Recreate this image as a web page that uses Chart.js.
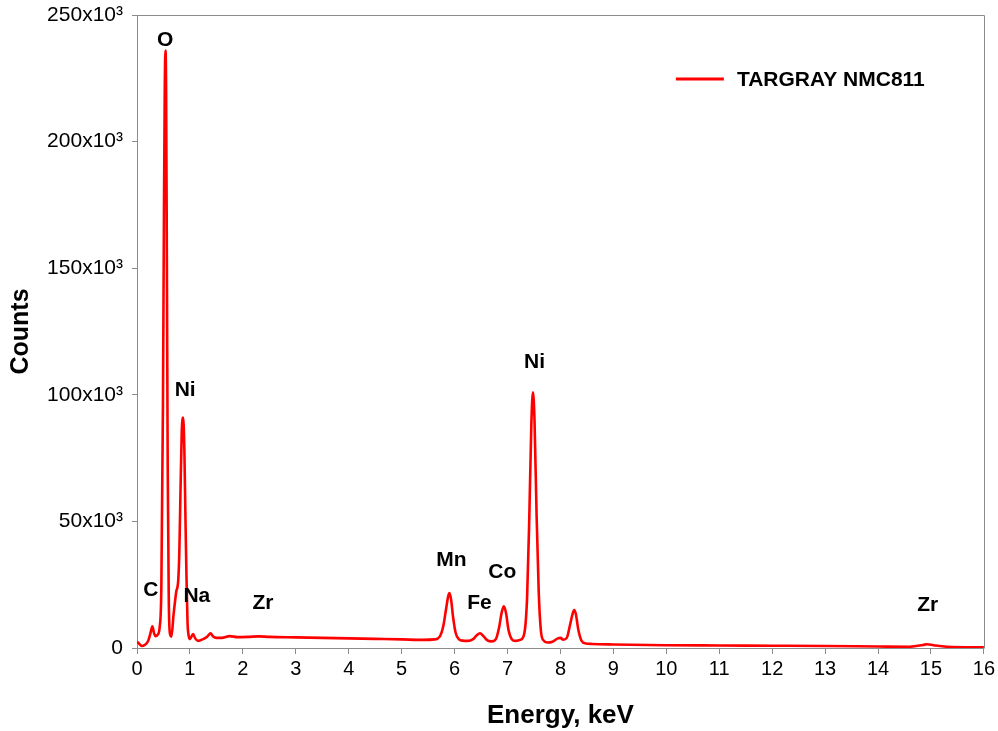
<!DOCTYPE html>
<html>
<head>
<meta charset="utf-8">
<title>EDS spectrum – TARGRAY NMC811</title>
<script src="https://cdn.jsdelivr.net/npm/chart.js@4.4.1/dist/chart.umd.min.js"></script>
<style>
  html, body { margin: 0; padding: 0; background: #ffffff; }
  #wrap { width: 998px; height: 731px; }
</style>
</head>
<body>
<div id="wrap"><canvas id="eds" width="998" height="731"></canvas></div>
<script>
// EDS spectrum of TARGRAY NMC811 powder
const seriesName = 'TARGRAY NMC811';

// Photon energy (keV)
const energy = [
  0.00, 0.05, 0.09, 0.15, 0.21, 0.25, 0.29, 0.32, 0.35, 0.39,
  0.43, 0.46, 0.49, 0.51, 0.525, 0.538, 0.55, 0.565, 0.58, 0.60,
  0.62, 0.65, 0.69, 0.74, 0.78, 0.80, 0.82, 0.845, 0.872, 0.895,
  0.915, 0.935, 0.955, 0.975, 1.00, 1.06, 1.10, 1.15, 1.25, 1.33,
  1.39, 1.44, 1.50, 1.60, 1.75, 1.90, 2.10, 2.30, 2.50, 3.00,
  3.50, 4.00, 4.50, 5.00, 5.40, 5.62, 5.72, 5.79, 5.84, 5.88,
  5.905, 5.935, 5.97, 6.02, 6.08, 6.15, 6.25, 6.35, 6.42, 6.48,
  6.54, 6.62, 6.70, 6.78, 6.84, 6.89, 6.93, 6.97, 7.02, 7.08,
  7.15, 7.25, 7.32, 7.37, 7.41, 7.45, 7.48, 7.51, 7.55, 7.59,
  7.63, 7.68, 7.75, 7.85, 7.95, 8.00, 8.05, 8.12, 8.18, 8.23,
  8.26, 8.29, 8.34, 8.40, 8.48, 8.60, 9.00, 10.00, 11.00, 12.00,
  13.00, 14.00, 14.60, 14.85, 14.93, 15.05, 15.30, 16.00
];

// Detector counts at each energy
const counts = [
  2500, 1500, 800, 1300, 2800, 5500, 8600, 6000, 4700, 5200,
  8500, 24000, 95000, 175000, 222000, 236000, 220000, 150000, 72000, 20000,
  6000, 4500, 13000, 22000, 27000, 38000, 60000, 85000, 91000, 78000,
  52000, 28000, 10000, 5000, 3500, 5500, 3800, 2800, 3500, 4500,
  5800, 4500, 4000, 4000, 4700, 4300, 4400, 4600, 4400, 4200,
  4000, 3800, 3600, 3400, 3200, 3400, 4500, 9000, 15500, 20500,
  21700, 19000, 12500, 6000, 3500, 2900, 2800, 3500, 5000, 5800,
  4800, 3000, 2600, 3500, 8000, 14000, 16500, 14000, 7000, 3500,
  2800, 3300, 6000, 20000, 50000, 88000, 101000, 90000, 52000, 22000,
  7000, 3000, 2200, 2500, 3800, 4000, 3300, 4000, 9000, 13500,
  15000, 13500, 7000, 2800, 1800, 1600, 1400, 1100, 1000, 900,
  800, 600, 500, 1200, 1500, 1100, 500, 300
];

// Element line labels: text, energy (keV), counts where the label sits
const peakText   = ['O', 'Ni', 'C', 'Na', 'Zr', 'Mn', 'Fe', 'Co', 'Ni', 'Zr'];
const peakEnergy = [0.53, 0.91, 0.26, 1.13, 2.38, 5.94, 6.47, 6.90, 7.51, 14.94];
const peakCounts = [240000, 102000, 23000, 20500, 17800, 34800, 17800, 30000, 113000, 16800];

// Axis range / tick values
const energyMax = 16;
const countsMax = 250000;
const countsStep = 50000;

const FONT = '"Liberation Sans", Arial, Helvetica, sans-serif';
const AXIS_GREY = '#8c8c8c';

const spectrum = energy.map((e, i) => ({ x: e, y: counts[i] }));

// Closes the plot box on the top and right sides
const framePlugin = {
  id: 'frame',
  beforeDatasetsDraw(chart) {
    const { ctx, chartArea: a } = chart;
    ctx.save();
    ctx.strokeStyle = AXIS_GREY;
    ctx.lineWidth = 1;
    ctx.beginPath();
    ctx.moveTo(Math.round(a.left) + 0.5, Math.round(a.top) + 0.5);
    ctx.lineTo(Math.round(a.right) + 0.5, Math.round(a.top) + 0.5);
    ctx.lineTo(Math.round(a.right) + 0.5, Math.round(a.bottom) + 0.5);
    ctx.stroke();
    ctx.restore();
  }
};

// Element names above their emission lines
const peakLabelPlugin = {
  id: 'peakLabels',
  afterDatasetsDraw(chart) {
    const { ctx, scales: { x, y } } = chart;
    ctx.save();
    ctx.font = 'bold 21px ' + FONT;
    ctx.fillStyle = '#000000';
    ctx.textAlign = 'center';
    ctx.textBaseline = 'middle';
    peakText.forEach((t, i) => {
      ctx.fillText(t, x.getPixelForValue(peakEnergy[i]), y.getPixelForValue(peakCounts[i]));
    });
    ctx.restore();
  }
};

// Legend entry in the upper right of the plot
const legendPlugin = {
  id: 'insetLegend',
  afterDatasetsDraw(chart) {
    const { ctx, chartArea: a } = chart;
    const ds = chart.data.datasets[0];
    const lx = a.right - 308, ly = a.top + 64;
    ctx.save();
    ctx.strokeStyle = ds.borderColor;
    ctx.lineWidth = 3;
    ctx.beginPath();
    ctx.moveTo(lx, ly);
    ctx.lineTo(lx + 48, ly);
    ctx.stroke();
    ctx.font = 'bold 21px ' + FONT;
    ctx.fillStyle = '#000000';
    ctx.textAlign = 'left';
    ctx.textBaseline = 'middle';
    ctx.fillText(ds.label, lx + 61, ly + 1);
    ctx.restore();
  }
};

new Chart(document.getElementById('eds'), {
  type: 'line',
  data: {
    datasets: [{
      label: seriesName,
      data: spectrum,
      borderColor: '#ff0000',
      borderWidth: 2.6,
      pointRadius: 0,
      fill: false,
      cubicInterpolationMode: 'monotone'
    }]
  },
  options: {
    responsive: false,
    animation: false,
    devicePixelRatio: 1,
    layout: { padding: { top: 15, right: 13, left: 0, bottom: 0 } },
    plugins: {
      legend: { display: false },
      tooltip: { enabled: false }
    },
    scales: {
      x: {
        type: 'linear',
        min: 0,
        max: energyMax,
        afterFit(scale) { scale.height = 83; },
        border: { display: true, color: AXIS_GREY, width: 1 },
        grid: { display: true, drawOnChartArea: false, drawTicks: true, tickLength: 6, color: AXIS_GREY },
        ticks: {
          stepSize: 1,
          color: '#000000',
          padding: 3,
          maxRotation: 0,
          font: { family: FONT, size: 20 }
        },
        title: {
          display: true,
          text: 'Energy, keV',
          color: '#000000',
          font: { family: FONT, size: 26, weight: 'bold' },
          padding: { top: 0, bottom: 0 }
        }
      },
      y: {
        type: 'linear',
        min: 0,
        max: countsMax,
        afterFit(scale) {
          scale.width = 137;
          scale.paddingTop = 0;
          scale.paddingBottom = 0;
        },
        border: { display: true, color: AXIS_GREY, width: 1 },
        grid: { display: true, drawOnChartArea: false, drawTicks: true, tickLength: 5, color: AXIS_GREY },
        ticks: {
          stepSize: countsStep,
          color: '#000000',
          padding: 9,
          font: { family: FONT, size: 21 },
          callback: v => (v === 0 ? '0' : (v / 1000) + 'x10\u00B3')
        },
        title: {
          display: true,
          text: 'Counts',
          color: '#000000',
          font: { family: FONT, size: 25, weight: 'bold' },
          padding: { top: 6, bottom: 0 }
        }
      }
    }
  },
  plugins: [framePlugin, peakLabelPlugin, legendPlugin]
});
</script>
</body>
</html>
